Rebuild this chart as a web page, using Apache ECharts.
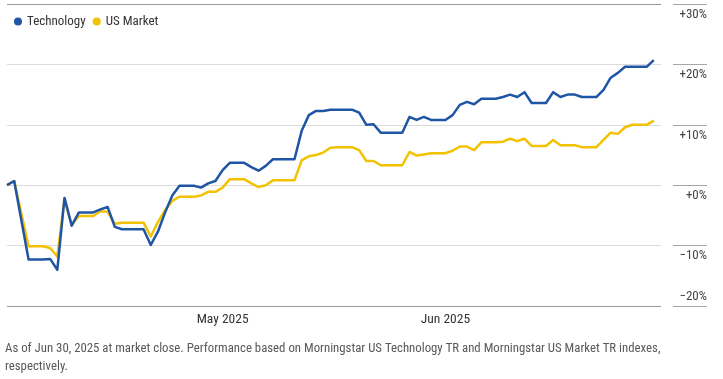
<!DOCTYPE html>
<html>
<head>
<meta charset="utf-8">
<script src="https://cdn.jsdelivr.net/npm/echarts@6/dist/echarts.min.js"></script>
<style>
html,body{margin:0;padding:0;background:#fff;}
#chart{width:723px;height:379px;}
</style>
</head>
<body>
<div id="chart"></div>
<script>
// Daily (calendar) cumulative returns, Apr 1 2025 -> Jun 30 2025, in %
const seriesNames = ['Technology', 'US Market'];
const technology = [
  0, 0.7, -5.8, -12.3, -12.3, -12.3, -12.2, -14.0, -2.1, -6.7,
  -4.5, -4.5, -4.5, -4.0, -3.6, -6.9, -7.3, -7.3, -7.3, -7.3,
  -9.9, -7.7, -4.5, -1.7, -0.1, -0.1, -0.1, -0.4, 0.3, 0.7,
  2.5, 3.7, 3.7, 3.7, 3.0, 2.4, 3.2, 4.3, 4.3, 4.3,
  4.3, 9.0, 11.6, 12.3, 12.3, 12.5, 12.5, 12.5, 12.5, 12.0,
  10.0, 10.1, 8.7, 8.7, 8.7, 8.7, 11.3, 10.8, 11.3, 10.8,
  10.8, 10.8, 11.6, 13.3, 13.8, 13.4, 14.3, 14.3, 14.3, 14.6,
  15.0, 14.6, 15.4, 13.6, 13.6, 13.6, 15.4, 14.6, 15.0, 15.0,
  14.6, 14.6, 14.6, 15.8, 17.8, 18.6, 19.6, 19.6, 19.6, 19.6,
  20.7
];
const usMarket = [
  0, 0.7, -4.7, -10.1, -10.1, -10.1, -10.4, -11.8, -2.3, -6.6,
  -5.1, -5.1, -5.1, -4.3, -4.4, -6.4, -6.2, -6.2, -6.2, -6.2,
  -8.5, -6.1, -4.1, -2.6, -1.9, -1.9, -1.9, -1.7, -1.1, -1.1,
  -0.4, 1.0, 1.0, 1.0, 0.3, -0.3, 0.0, 0.8, 0.8, 0.8,
  0.8, 4.1, 4.8, 5.0, 5.4, 6.2, 6.3, 6.3, 6.3, 5.8,
  4.0, 4.0, 3.3, 3.3, 3.3, 3.3, 5.5, 4.9, 5.1, 5.3,
  5.3, 5.3, 5.7, 6.4, 6.4, 5.8, 7.1, 7.1, 7.1, 7.2,
  7.7, 7.3, 7.7, 6.5, 6.5, 6.5, 7.5, 6.6, 6.6, 6.6,
  6.3, 6.3, 6.3, 7.5, 8.7, 8.5, 9.6, 10.0, 10.0, 10.0,
  10.7
];
const monthTicks = ['2025-05-01', '2025-06-01'];
const monthLabels = ['May 2025', 'Jun 2025'];
const yTicks = [-20, -10, 0, 10, 20, 30];
const footnote = 'As of Jun 30, 2025 at market close. Performance based on Morningstar US Technology TR and Morningstar US Market TR indexes,\nrespectively.';

// calendar categories Apr 1 .. Jul 1 (axis runs one day past the last point)
const dates = [];
{
  const d = new Date(Date.UTC(2025, 3, 1));
  const end = Date.UTC(2025, 6, 1);
  while (d.getTime() <= end) {
    dates.push(d.toISOString().slice(0, 10));
    d.setUTCDate(d.getUTCDate() + 1);
  }
}

const FONT = "Roboto, 'DejaVu Sans', sans-serif";
const STRETCH = 'normal condensed';
const BLUE = '#1F55A5';
const YELLOW = '#F2C200';
const fmtPct = v => (v < 0 ? '\u2212' : '+') + Math.abs(v) + '%';
const yMin = yTicks[0], yMax = yTicks[yTicks.length - 1];

const chart = echarts.init(document.getElementById('chart'), null, {renderer: 'canvas'});
chart.setOption({
  animation: false,
  backgroundColor: '#fff',
  textStyle: {fontFamily: FONT},
  title: {
    text: footnote,
    left: 5,
    top: 340,
    padding: 0,
    textStyle: {fontFamily: FONT, fontSize: 12.8, fontWeight: STRETCH, color: '#595959', lineHeight: 18}
  },
  legend: {
    data: seriesNames,
    left: 14,
    top: 15,
    padding: 0,
    icon: 'circle',
    itemWidth: 8,
    itemHeight: 8,
    itemGap: 7,
    textStyle: {fontFamily: FONT, fontSize: 13, fontWeight: STRETCH, color: '#333'}
  },
  grid: [
    {left: 7, right: 62, top: 4, bottom: 73, containLabel: false},
    {left: 673, right: 16, top: 4, bottom: 73, containLabel: false}
  ],
  xAxis: [
    {
      type: 'category',
      gridIndex: 0,
      data: dates,
      boundaryGap: false,
      axisLine: {show: false},
      axisTick: {show: false},
      splitLine: {show: false},
      axisLabel: {
        interval: 0,
        formatter: val => monthLabels[monthTicks.indexOf(val)] || '',
        margin: 7,
        fontFamily: FONT,
        fontWeight: STRETCH,
        fontSize: 13.5,
        color: '#333'
      }
    },
    {type: 'value', gridIndex: 1, show: false, min: 0, max: 1}
  ],
  yAxis: [
    {
      type: 'value',
      gridIndex: 0,
      min: yMin, max: yMax, interval: 10,
      axisLine: {show: false},
      axisTick: {show: false},
      axisLabel: {show: false},
      splitLine: {show: true, lineStyle: {width: 1, color: ['#9a9a9a', '#dcdcdc', '#dcdcdc', '#dcdcdc', '#dcdcdc', '#9a9a9a']}}
    },
    {
      type: 'value',
      gridIndex: 1,
      position: 'right',
      min: yMin, max: yMax, interval: 10,
      axisLine: {show: false},
      axisTick: {show: false},
      splitLine: {show: true, lineStyle: {width: 1, color: '#a6a6a6'}},
      axisLabel: {
        inside: true,
        margin: 0,
        verticalAlign: 'top',
        padding: [4, 0, 0, 0],
        formatter: v => (v === yMin ? '' : fmtPct(v)),
        fontFamily: FONT,
        fontWeight: STRETCH,
        fontSize: 13,
        color: '#444'
      }
    },
    {
      type: 'value',
      gridIndex: 1,
      position: 'right',
      min: yMin, max: yMax, interval: 10,
      axisLine: {show: false},
      axisTick: {show: false},
      splitLine: {show: false},
      axisLabel: {
        inside: true,
        margin: 0,
        verticalAlign: 'bottom',
        padding: [0, 0, 3, 0],
        formatter: v => (v === yMin ? fmtPct(v) : ''),
        fontFamily: FONT,
        fontWeight: STRETCH,
        fontSize: 13,
        color: '#444'
      }
    }
  ],
  series: [
    {
      name: 'US Market',
      type: 'line',
      xAxisIndex: 0, yAxisIndex: 0,
      data: usMarket,
      symbol: 'none',
      color: YELLOW,
      lineStyle: {width: 2.5, color: YELLOW, join: 'round'}
    },
    {
      name: 'Technology',
      type: 'line',
      xAxisIndex: 0, yAxisIndex: 0,
      data: technology,
      symbol: 'none',
      color: BLUE,
      lineStyle: {width: 2.5, color: BLUE, join: 'round'}
    }
  ]
});
</script>
</body>
</html>
